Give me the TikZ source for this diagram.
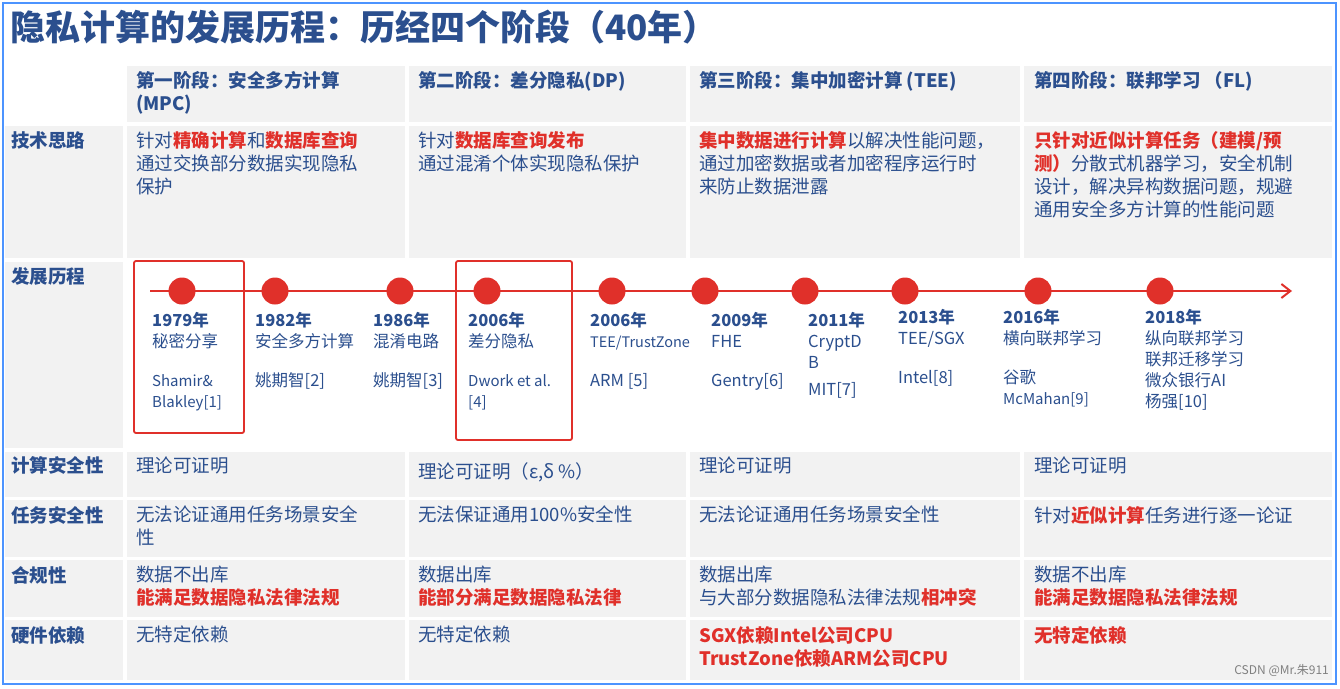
\documentclass[tikz,border=0pt]{standalone}
\usetikzlibrary{arrows.meta}
\usepackage{fontspec}
\setmainfont{Noto Sans CJK SC}
\definecolor{tb}{HTML}{2B4F8E}
\definecolor{rd}{HTML}{E0302A}
\definecolor{cg}{HTML}{F2F2F2}
\begin{document}
\begin{tikzpicture}[x=1pt,y=-1pt,
  cell/.style={fill=cg,draw=none},
  tx/.style={anchor=north west,align=left,inner sep=0pt,text=tb,font=\fontsize{18.5}{23}\selectfont},
  hd/.style={tx,font=\bfseries\fontsize{18.5}{23}\selectfont},
  yr/.style={tx,font=\fontsize{16.5}{21}\selectfont},
  dot/.style={circle,fill=rd,minimum size=27pt,inner sep=0pt},
  rbox/.style={draw=rd,line width=1.8pt,rounded corners=2pt}]
\useasboundingbox (0,0) rectangle (1340,688);
\fill[white] (0,0) rectangle (1340,688);
\draw[color=blue!60!cyan!70,line width=1.5pt] (3,3) rectangle (1336,684);
\newcommand\rd[1]{\textcolor{rd}{\bfseries #1}}
% title
\node[tx,font=\bfseries\fontsize{35}{40}\selectfont] (title) at (10,10) {隐私计算的发展历程：历经四个阶段（40年）};
% grid cells
\foreach \ya/\yb in {66/122,126/258,452/497,500/557,560/617,620/680}{
  \foreach \xa/\xb in {5/123,127/405,409/686,690/1020,1024/1332}{
    \fill[cg] (\xa,\ya) rectangle (\xb,\yb);}}
\fill[cg] (5,262) rectangle (123,448);
\fill[white] (5,66) rectangle (123,122);
% headers
\node[hd] (h1) at (136,71) {第一阶段：安全多方计算\\(MPC)};
\node[hd] (h2) at (418,71) {第二阶段：差分隐私(DP)};
\node[hd] (h3) at (699,71) {第三阶段：集中加密计算 (TEE)};
\node[hd] (h4) at (1034,71) {第四阶段：联邦学习 （FL)};
% row labels
\node[hd] (l1) at (11,131) {技术思路};
\node[hd] (l2) at (11,267) {发展历程};
\node[hd] (l3) at (11,456) {计算安全性};
\node[hd] (l4) at (11,506) {任务安全性};
\node[hd] (l5) at (11,566) {合规性};
\node[hd] (l6) at (11,626) {硬件依赖};
% 技术思路
\node[tx] (a1) at (136,131) {针对\rd{精确计算}和\rd{数据库查询}\\通过交换部分数据实现隐私\\保护};
\node[tx] (a2) at (418,131) {针对\rd{数据库查询发布}\\通过混淆个体实现隐私保护};
\node[tx] (a3) at (699,131) {\rd{集中数据进行计算}以解决性能问题，\\通过加密数据或者加密程序运行时\\来防止数据泄露};
\node[tx] (a4) at (1034,131) {\rd{只针对近似计算任务（建模/预}\\\rd{测）}分散式机器学习，安全机制\\设计，解决异构数据问题，规避\\通用安全多方计算的性能问题};
% timeline
\coordinate (ts) at (150,291);
\coordinate (te) at (1292,291);
\draw[rd,line width=2pt,-{Straight Barb[length=9pt,width=14pt]}] (ts) -- (te);
\foreach \n/\x in {1/182,2/275,3/400,4/487,5/612,6/705,7/805,8/905,9/1038,10/1160}{
  \node[dot] (d\n) at (\x,291) {};}
\node[yr] (y1) at (152,312) {\textbf{1979年}\\秘密分享\\[18pt]{\fontsize{15}{21}\selectfont Shamir\&}\\{\fontsize{15}{21}\selectfont Blakley[1]}};
\node[yr] (y2) at (255,312) {\textbf{1982年}\\安全多方计算\\[18pt]姚期智[2]};
\node[yr] (y3) at (373,312) {\textbf{1986年}\\混淆电路\\[18pt]姚期智[3]};
\node[yr] (y4) at (468,312) {\textbf{2006年}\\差分隐私\\[18pt]{\fontsize{15}{21}\selectfont Dwork et al.}\\{\fontsize{15}{21}\selectfont [4]}};
\node[yr] (y5) at (590,312) {\textbf{2006年}\\{\fontsize{14.5}{21}\selectfont TEE/TrustZone}\\[18pt]ARM [5]};
\node[yr] (y6) at (711,312) {\textbf{2009年}\\FHE\\[18pt]Gentry[6]};
\node[yr] (y7) at (808,312) {\textbf{2011年}\\CryptD\\B\\[6pt]MIT[7]};
\node[yr] (y8) at (898,309) {\textbf{2013年}\\TEE/SGX\\[18pt]Intel[8]};
\node[yr] (y9) at (1003,309) {\textbf{2016年}\\横向联邦学习\\[18pt]谷歌\\{\fontsize{15}{21}\selectfont McMahan[9]}};
\node[yr] (y10) at (1145,309) {\textbf{2018年}\\纵向联邦学习\\联邦迁移学习\\微众银行AI\\杨强[10]};
\draw[rbox] (134,261) rectangle (244,433);
\draw[rbox] (456,261) rectangle (572,440);
% 计算安全性
\node[tx] (b1) at (136,457) {理论可证明};
\node[tx] (b2) at (418,462) {理论可证明（ε,δ \%）};
\node[tx] (b3) at (699,457) {理论可证明};
\node[tx] (b4) at (1034,457) {理论可证明};
% 任务安全性
\node[tx] (c1) at (136,506) {无法论证通用任务场景安全\\性};
\node[tx] (c2) at (418,506) {无法保证通用100\%安全性};
\node[tx] (c3) at (699,506) {无法论证通用任务场景安全性};
\node[tx] (c4) at (1034,506) {针对\rd{近似计算}任务进行逐一论证};
% 合规性
\node[tx] (e1) at (136,566) {数据不出库\\\rd{能满足数据隐私法律法规}};
\node[tx] (e2) at (418,566) {数据出库\\\rd{能部分满足数据隐私法律}};
\node[tx] (e3) at (699,566) {数据出库\\与大部分数据隐私法律法规\rd{相冲突}};
\node[tx] (e4) at (1034,566) {数据不出库\\\rd{能满足数据隐私法律法规}};
% 硬件依赖
\node[tx] (f1) at (136,626) {无特定依赖};
\node[tx] (f2) at (418,626) {无特定依赖};
\node[tx] (f3) at (699,626) {\rd{SGX依赖Intel公司CPU}\\\rd{TrustZone依赖ARM公司CPU}};
\node[tx] (f4) at (1034,626) {\rd{无特定依赖}};
\node[anchor=south east,inner sep=3pt,font=\fontsize{12}{14}\selectfont,text=gray] (wm) at (1332,680) {CSDN @Mr.朱911};
\end{tikzpicture}
\end{document}
